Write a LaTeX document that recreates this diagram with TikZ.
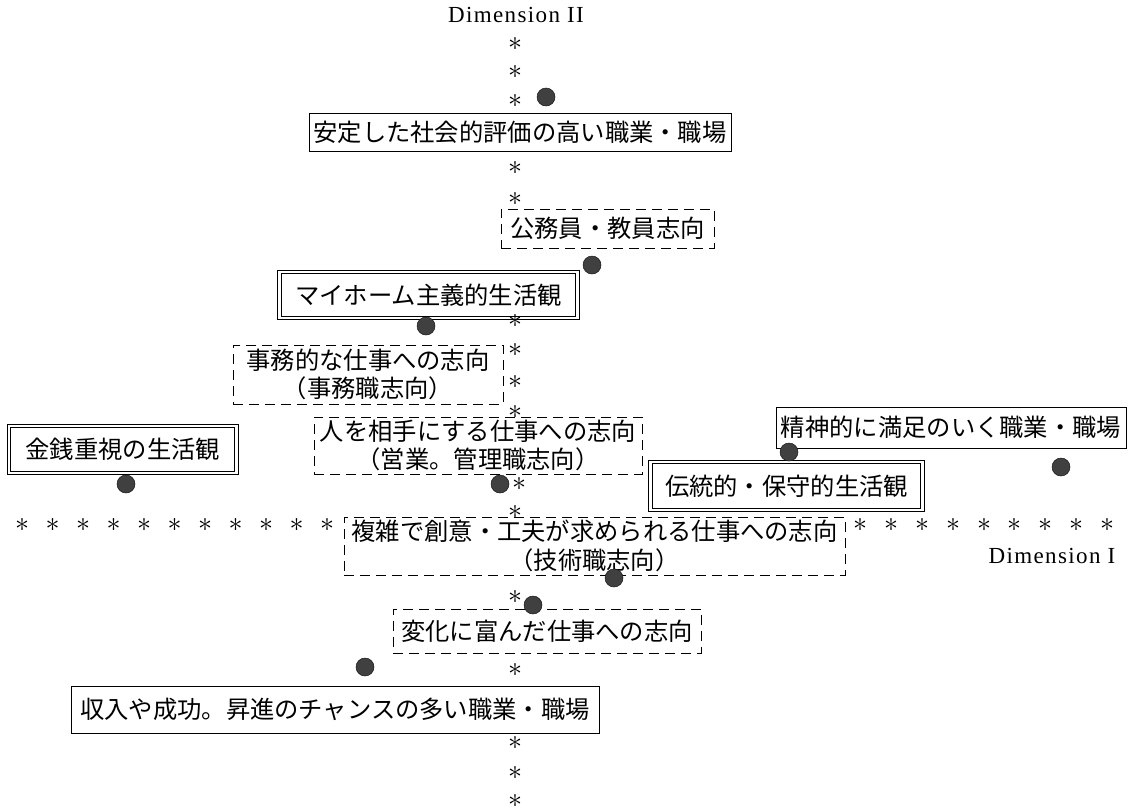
\RequirePackage{fix-cm}
\documentclass[tikz,border=0pt]{standalone}
\usepackage{fontspec}
\newfontfamily\jp{Noto Sans CJK JP}
\newfontfamily\dimfont[LetterSpace=6]{Liberation Serif}
\tikzset{
  box/.style={draw, line width=1.0pt, inner sep=0pt, align=center,
    font=\jp\fontsize{24.3}{28.5}\selectfont},
  solidbox/.style={box},
  dashbox/.style={box, dash pattern=on 10pt off 6pt},
  dblbox/.style={box, double, double distance=2.6pt, line width=0.9pt},
  dot/.style={circle, fill=black!75, draw=black!90, line width=0.5pt,
    minimum size=18pt, inner sep=0pt},
  star/.style={inner sep=0pt, font=\fontsize{28}{28}\selectfont},
  dimlabel/.style={inner sep=0pt, font=\dimfont\fontsize{23}{23}\selectfont},
}
\begin{document}
\begin{tikzpicture}[x=1pt,y=-1pt]
\useasboundingbox[fill=white] (0,0) rectangle (1135,809);

% axis labels
\node[dimlabel] (dim2) at (516,15) {Dimension II};
\node[dimlabel] (dim1) at (1052,556) {Dimension I};

% boxes
\node[solidbox, minimum width=422pt, minimum height=38pt] (antei) at (520,132)
  {安定した社会的評価の高い職業・職場};
\node[dashbox, minimum width=213pt, minimum height=39pt] (koumu) at (607.5,228.5)
  {公務員・教員志向};
\node[dblbox, minimum width=298pt, minimum height=46pt] (myhome) at (428.5,295)
  {マイホーム主義的生活観};
\node[dashbox, minimum width=270pt, minimum height=59pt] (jimu) at (368,374.5)
  {事務的な仕事への志向\\（事務職志向）};
\node[dashbox, minimum width=328pt, minimum height=57pt] (hito) at (478,445.5)
  {人を相手にする仕事への志向\\（営業。管理職志向）};
\node[dblbox, minimum width=227.5pt, minimum height=47pt] (kinsen) at (122.75,449.5)
  {金銭重視の生活観};
\node[solidbox, minimum width=350pt, minimum height=41pt] (seishin) at (951,427.5)
  {精神的に満足のいく職業・職場};
\node[dblbox, minimum width=272pt, minimum height=48pt] (dentou) at (786.5,486)
  {伝統的・保守的生活観};
\node[dashbox, minimum width=501pt, minimum height=58pt] (fuku) at (594.5,546)
  {複雑で創意・工夫が求められる仕事への志向\\（技術職志向）};
\node[dashbox, minimum width=308pt, minimum height=44pt] (henka) at (547,631)
  {変化に富んだ仕事への志向};
\node[solidbox, minimum width=528pt, minimum height=47pt] (shuu) at (335,709.5)
  {収入や成功。昇進のチャンスの多い職業・職場};

% vertical axis (Dimension II)
\foreach \yy [count=\i] in {44,72,101,168,199,321,350,382,412,512,597,670,743,773,801}
  \node[star] (v\i) at (515,\yy) {$\ast$};
\node[star] (v16) at (519,484) {$\ast$};

% horizontal axis (Dimension I)
\foreach \i in {0,...,10}
  \node[star] (hl\i) at ({22+30.5*\i},525) {$\ast$};
\foreach \xx [count=\i] in {860,891,922,953,984,1014,1045,1076,1107}
  \node[star] (hr\i) at (\xx,525) {$\ast$};

% dots
\node[dot] (d1) at (546,97) {};
\node[dot] (d2) at (592,265) {};
\node[dot] (d3) at (426,326) {};
\node[dot] (d4) at (126,484) {};
\node[dot] (d5) at (500,484) {};
\node[dot] (d6) at (789,452) {};
\node[dot] (d7) at (1061,467) {};
\node[dot] (d8) at (614,578) {};
\node[dot] (d9) at (533,605) {};
\node[dot] (d10) at (365,667) {};
\end{tikzpicture}
\end{document}
